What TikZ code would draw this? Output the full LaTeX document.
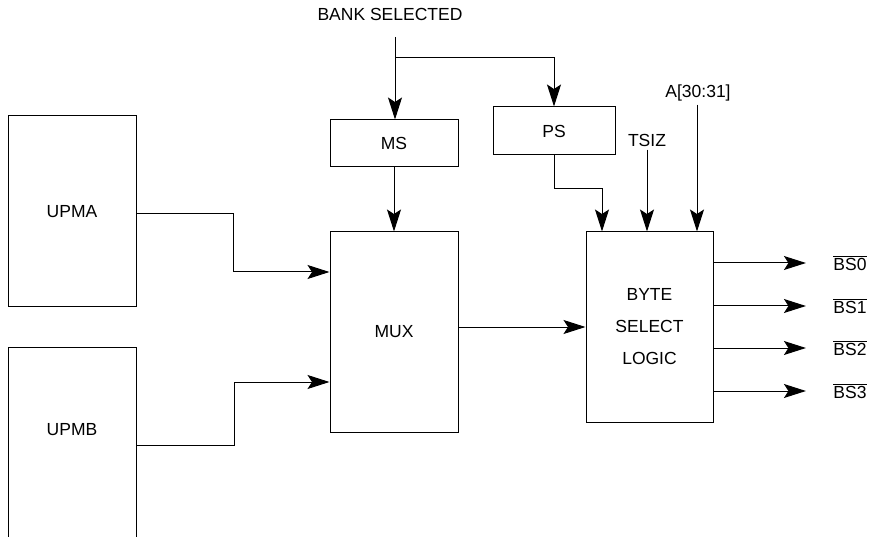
\documentclass[tikz,border=0pt]{standalone}
\usepackage{fontspec}
\setmainfont{Liberation Sans}
\usetikzlibrary{arrows.meta,positioning}

\begin{document}
\begin{tikzpicture}[x=1pt, y=-1pt,
  blk/.style={draw, line width=1pt, align=center, font=\fontsize{17.5}{32}\selectfont},
  sig/.style={font=\fontsize{17.5}{20}\selectfont},
  arrow/.style={-{Stealth[length=22pt, width=14pt, inset=4.5pt]}, line width=1pt}
]
\useasboundingbox (0,0) rectangle (870,537);
\clip (0,0) rectangle (870,537);

% blocks
\node[blk, minimum width=128, minimum height=191] (upma) at (72,211.5) {UPMA};
\node[blk, minimum width=128, minimum height=260, anchor=north west] (upmb) at (8,347) {};
\node[sig] (upmbtext) at (72,430) {UPMB};
\node[blk, minimum width=128, minimum height=47] (ms) at (394,143.5) {MS};
\node[blk, minimum width=122, minimum height=48] (ps) at (554,131) {PS};
\node[blk, minimum width=128, minimum height=200] (mux) at (394,332) {MUX};
\node[blk, minimum width=127, minimum height=190] (bsl) at (649.5,327) {BYTE\\SELECT\\LOGIC};

% inputs
\node[sig] (bank) at (390,14) {BANK SELECTED};
\coordinate (bankin) at (395,37);
\coordinate (split) at (395,58);
\node[sig] (tsiz) at (647,140) {TSIZ};
\node[sig] (addr) at (698,93) {A[30:31]};

\draw[line width=1pt] (bankin) -- (split);
\draw[arrow] (split) -- (split |- ms.north);
\draw[arrow] (split) -| (ps.north);
\draw[arrow] (ms) -- (mux);
\draw[arrow] ([yshift=-2.5pt]upma.east) -- ++(97,0) |- ([yshift=60pt]mux.west);
\draw[arrow] ([yshift=32pt]upmb.east) -- ++(97,0) |- ([yshift=-50pt]mux.west);
\draw[arrow] (bsl.west -| mux.east) -- (bsl.west);
\draw[arrow] (ps.south) -- ++(0,33) -| ([xshift=-47.5pt]bsl.north);
\draw[arrow] (tsiz) -- (tsiz |- bsl.north);
\draw[arrow] ([xshift=-1pt]addr.south) -- ([xshift=-1pt]addr.south |- bsl.north);

% outputs
\foreach \i/\yy in {0/263,1/306,2/348,3/391} {
  \node[sig] (bs\i) at (850,\yy) {$\overline{\hbox{BS\i}}$};
  \draw[arrow] (bsl.east |- bs\i) -- ([xshift=-24pt]bs\i.west);
}
\end{tikzpicture}
\end{document}
